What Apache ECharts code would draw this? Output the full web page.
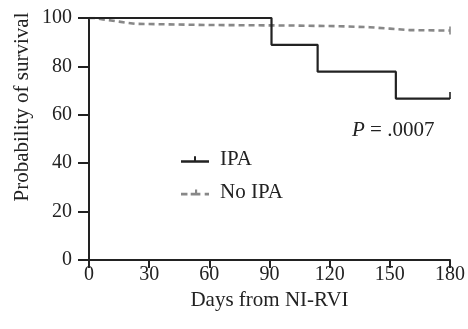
<!DOCTYPE html>
<html><head><meta charset="utf-8">
<script src="https://cdn.jsdelivr.net/npm/echarts@6/dist/echarts.min.js"></script>
<style>html,body{margin:0;padding:0;background:#fff}#c{width:468px;height:329px}</style>
</head><body><div id="c"></div>
<script>
const xTicks = [0, 30, 60, 90, 120, 150, 180];
const yTicks = [0, 20, 40, 60, 80, 100];
const ipaDays = [0, 91, 114, 153, 180];
const ipaSurv = [100, 88.9, 77.8, 66.7, 66.7];
const noIpaDays = [0, 3, 7, 11, 15, 19, 23, 60, 100, 125, 140, 150, 160, 180];
const noIpaSurv = [100, 99.4, 99.0, 98.5, 98.0, 97.6, 97.1, 96.9, 96.6, 96.2, 95.6, 95.0, 94.8, 94.8];
const censorDays = [180];
const ipaCensor = [66.7];
const noIpaCensor = [94.8];

const font = 'Liberation Serif';
const ink = '#222';
const chart = echarts.init(document.getElementById('c'));
const zip = (a, b) => a.map((v, i) => [v, b[i]]);
chart.setOption({
  animation: false,
  grid: {left: 89, right: 16, top: 18, bottom: 69},
  legend: {
    orient: 'vertical', left: 176, top: 144, itemGap: 12, itemWidth: 28, itemHeight: 10,
    textStyle: {fontFamily: font, fontSize: 21, color: ink, padding: [0, 0, 0, 6]},
    data: [
      {name: 'IPA', icon: 'path://M0,4 H13 V0 H15 V4 H28 V6.5 H0 Z', itemStyle: {color: ink}},
      {name: 'No IPA', icon: 'path://M0,4 H6 V6.5 H0 Z M9,4 H13 V1 H15 V4 H18 V6.5 H9 Z M22,4 H26 V6.5 H22 Z', itemStyle: {color: '#888'}}
    ]
  },
  xAxis: {
    type: 'value', min: 0, max: 180, interval: 30,
    name: 'Days from NI-RVI', nameLocation: 'middle', nameGap: 30,
    nameTextStyle: {fontFamily: font, fontSize: 21, color: ink},
    axisLine: {lineStyle: {color: ink, width: 2}},
    axisTick: {length: 8, lineStyle: {color: ink, width: 2}},
    axisLabel: {fontFamily: font, fontSize: 20, color: ink, margin: 5},
    splitLine: {show: false}
  },
  yAxis: {
    type: 'value', min: 0, max: 100, interval: 20,
    axisLine: {show: true, lineStyle: {color: ink, width: 2}},
    axisTick: {show: true, length: 11, lineStyle: {color: ink, width: 2}},
    axisLabel: {fontFamily: font, fontSize: 20, color: ink, margin: 17},
    splitLine: {show: false}
  },
  graphic: [
    {
      type: 'text', x: 22, y: 107, rotation: Math.PI / 2,
      style: {
        text: 'Probability of survival', fontFamily: font, fontSize: 21, fill: ink,
        align: 'center', verticalAlign: 'middle'
      }
    },
    {
      type: 'text', x: 352, y: 130,
      style: {
        text: '{i|P} = .0007', fontFamily: font, fontSize: 21, fill: ink,
        verticalAlign: 'middle',
        rich: {i: {fontFamily: font, fontStyle: 'italic', fontSize: 21, fill: ink}}
      }
    }
  ],
  series: [
    {
      name: 'No IPA', type: 'line', step: 'end', symbol: 'none', z: 2,
      data: zip(noIpaDays, noIpaSurv),
      lineStyle: {color: '#888', width: 2.6, type: [6, 4]}, itemStyle: {color: '#888'}
    },
    {
      name: 'IPA', type: 'line', step: 'end', symbol: 'none', z: 3,
      data: zip(ipaDays, ipaSurv),
      lineStyle: {color: ink, width: 2.2}, itemStyle: {color: ink}
    },
    {
      name: 'IPA', type: 'scatter', symbol: 'rect', symbolSize: [2, 7], symbolOffset: [0, -3],
      data: zip(censorDays, ipaCensor), itemStyle: {color: ink}, z: 4
    },
    {
      name: 'No IPA', type: 'scatter', symbol: 'rect', symbolSize: [2, 8],
      data: zip(censorDays, noIpaCensor), itemStyle: {color: '#888'}, z: 4
    }
  ]
});
</script></body></html>
